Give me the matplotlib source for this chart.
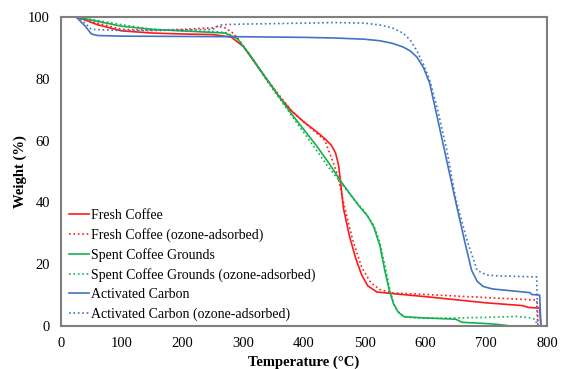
import matplotlib
matplotlib.use("Agg")
import matplotlib.pyplot as plt

# Fresh coffee
fc_t = [25, 40, 60, 100, 150, 200, 250, 280, 300, 320, 340, 360, 380, 400, 420, 435, 445,
        452, 457, 460, 465, 475, 485, 495, 505, 520, 540, 600, 700, 760, 770, 788, 790]
fc_w = [100, 99, 97.5, 95.5, 94.8, 94.5, 94.3, 93.5, 90.5, 85, 79.5, 74, 69.5, 66, 63, 60.5, 58.5,
        56, 52, 47, 38, 29, 22, 16.5, 13, 11, 10.6, 9.5, 7.5, 6.6, 6.0, 5.8, 0]

fc_oz_t = [25, 50, 100, 150, 200, 250, 258, 270, 285, 295, 310, 340, 380, 420, 435, 440, 448,
           455, 465, 480, 495, 510, 525, 545, 600, 700, 783, 785]
fc_oz_w = [100, 98.5, 96, 95.7, 96, 96.5, 97, 96.5, 94.5, 92, 88, 79.5, 69.5, 62.5, 60, 57, 53,
           49, 40, 28, 19, 14, 11.8, 10.7, 10.2, 9.2, 8.4, 0]

# Spent coffee grounds
scg_t = [25, 50, 100, 150, 200, 250, 270, 290, 310, 340, 360, 380, 400, 420, 440, 460, 475,
         490, 505, 515, 525, 533, 540, 547, 555, 565, 600, 650, 660, 700, 720, 740]
scg_w = [100, 99, 97, 96, 95.5, 95, 94.8, 93, 88, 79.5, 74, 68.5, 63.5, 58.5, 53, 47, 43,
         39, 35.5, 32, 26, 18, 12, 7.4, 4.5, 3, 2.6, 2.2, 1.2, 0.8, 0.5, 0]

scg_oz_t = [25, 50, 100, 150, 200, 250, 270, 290, 310, 340, 360, 380, 400, 420, 440, 460, 480,
            500, 515, 525, 535, 542, 550, 560, 570, 600, 650, 700, 750, 770, 780, 785]
scg_oz_w = [100, 99.2, 97.5, 96, 95.5, 95.3, 95, 93.3, 88, 79, 73.5, 68, 62.5, 57, 51.5, 46.5, 41.5,
            37, 32.5, 27, 18, 11, 6, 3.5, 2.8, 2.5, 2.6, 2.8, 3.1, 2.7, 2.2, 0]

# Activated carbon
ac_t = [25, 40, 50, 60, 100, 200, 300, 400, 450, 500, 525, 545, 563, 575, 586, 597, 607, 620,
        635, 650, 665, 676, 685, 695, 710, 772, 775, 788, 790]
ac_w = [100, 97, 94.5, 94, 93.8, 93.7, 93.6, 93.4, 93.2, 92.8, 92.3, 91.5, 90.3, 89, 87, 83.5, 78.5,
        67, 53.5, 40, 27, 18, 14.5, 12.8, 12, 10.8, 10.2, 10, 0]

ac_oz_t = [25, 40, 50, 100, 150, 200, 250, 258, 265, 300, 400, 450, 500, 525, 545, 563, 575, 586,
           597, 607, 620, 635, 650, 668, 685, 701, 720, 783, 785]
ac_oz_w = [100, 98, 96, 95.6, 95.6, 95.8, 96, 97, 97.5, 97.7, 98, 98.2, 98.0, 97.4, 96.5, 94.8, 92.5, 89,
           84.5, 79.6, 70, 57, 41, 28, 18, 16.5, 16.2, 15.9, 0]

RED = "#ff1a1a"
GREEN = "#13b050"
BLUE = "#4472c4"

plt.rcParams["font.family"] = ["Liberation Serif", "DejaVu Serif"]

fig = plt.figure(figsize=(5.61, 3.69), dpi=100)
ax = fig.add_axes([0.1087, 0.1165, 0.8663, 0.8375])

lw = 1.2
ax.plot(fc_t, fc_w, color=RED, lw=lw, label="Fresh Coffee")
ax.plot(fc_oz_t, fc_oz_w, color=RED, lw=lw, ls=":", label="Fresh Coffee (ozone-adsorbed)")
ax.plot(scg_t, scg_w, color=GREEN, lw=lw, label="Spent Coffee Grounds")
ax.plot(scg_oz_t, scg_oz_w, color=GREEN, lw=lw, ls=":", label="Spent Coffee Grounds (ozone-adsorbed)")
ax.plot(ac_t, ac_w, color=BLUE, lw=lw, label="Activated Carbon")
ax.plot(ac_oz_t, ac_oz_w, color=BLUE, lw=lw, ls=":", label="Activated Carbon (ozone-adsorbed)")

ax.set_xlim(0, 800)
ax.set_ylim(0, 100)
ax.set_xticks(range(0, 801, 100))
ax.set_yticks(range(0, 101, 20))
ax.tick_params(length=0, labelsize=10.5, pad=8)

for sp in ax.spines.values():
    sp.set_color("#7f7f7f")
    sp.set_linewidth(1.5)

ax.set_xlabel("Temperature (°C)", fontsize=10.5, fontweight="bold", labelpad=4)
ax.set_ylabel("Weight (%)", fontsize=10.5, fontweight="bold", labelpad=1)

ax.legend(loc="upper left", bbox_to_anchor=(0.016, 0.38), frameon=False, fontsize=10,
          borderaxespad=0, borderpad=0, handlelength=1.45, handletextpad=0.15, labelspacing=0.45)

plt.savefig("out.png", dpi=100)
plt.close()
